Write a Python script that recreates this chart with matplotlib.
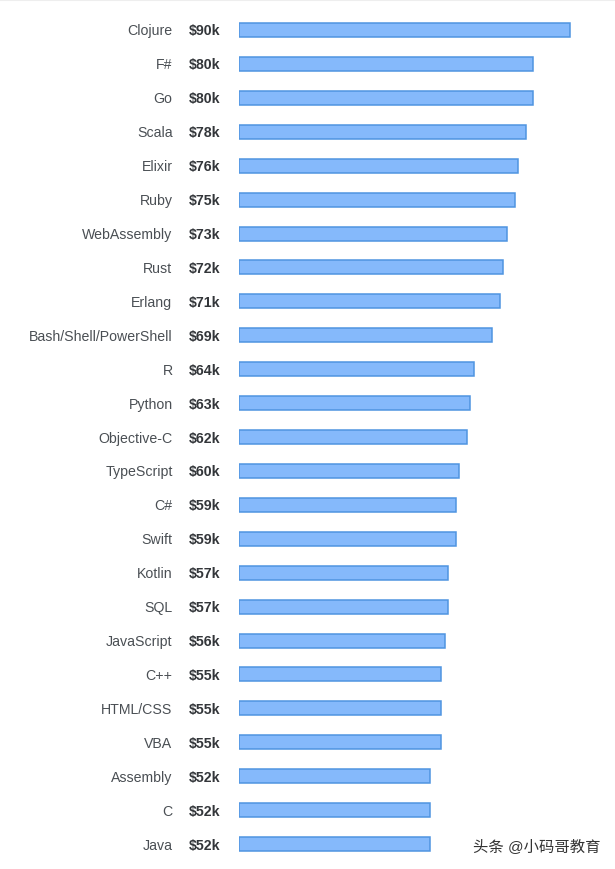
"""
Salary by language, horizontal bars
"""

import matplotlib
matplotlib.use('Agg')
import numpy as np
import matplotlib.pyplot as plt
from matplotlib.lines import Line2D

languages = ['Clojure', 'F#', 'Go', 'Scala', 'Elixir', 'Ruby', 'WebAssembly', 'Rust',
             'Erlang', 'Bash/Shell/PowerShell', 'R', 'Python', 'Objective-C', 'TypeScript',
             'C#', 'Swift', 'Kotlin', 'SQL', 'JavaScript', 'C++', 'HTML/CSS', 'VBA',
             'Assembly', 'C', 'Java']
salaries = [90, 80, 80, 78, 76, 75, 73, 72, 71, 69, 64, 63, 62, 60, 59, 59, 57, 57,
            56, 55, 55, 55, 52, 52, 52]
watermark = '头条 @小码哥教育'

W, H = 615, 869
X0 = 238.5      # 柱子起点 (px)
PX_PER_K = 3.68
Y0 = 30.0       # 第一根柱子中心 (px)
STEP = 33.92

plt.rcParams['font.family'] = ['Liberation Sans', 'Noto Sans CJK SC', 'DejaVu Sans']

fig = plt.figure(figsize=(W / 100, H / 100), dpi=100, facecolor='white')
ax = fig.add_axes([X0 / W, 0, 1 - X0 / W, 1])

y = np.arange(len(languages))
ax.barh(y, salaries, height=14 / STEP, color='#85b9fb', edgecolor='#4f94e0', linewidth=1.1)

ax.set_xlim(0, (W - X0) / PX_PER_K)
ax.set_ylim((H - Y0) / STEP, -Y0 / STEP)
ax.axis('off')

# 标签放在柱子左边，用像素偏移
for i, (name, val) in enumerate(zip(languages, salaries)):
    ax.annotate(name, xy=(0, i), xycoords=('axes fraction', 'data'),
                xytext=(-66, -1.5), textcoords='offset pixels',
                ha='right', va='center', fontsize=10.2, color='#4a4f54')
    ax.annotate(f'${val}k', xy=(0, i), xycoords=('axes fraction', 'data'),
                xytext=(-49.5, -1.5), textcoords='offset pixels',
                ha='left', va='center', fontsize=10.2, fontweight='bold', color='#33363a')

fig.add_artist(Line2D([0, 1], [0.9995, 0.9995], color='#eeeeee', linewidth=1.5))

fig.text(473 / W, 1 - 846.5 / H, watermark, ha='left', va='center', fontsize=11.05,
         color='#333333')

plt.savefig('out.png', dpi=100)
